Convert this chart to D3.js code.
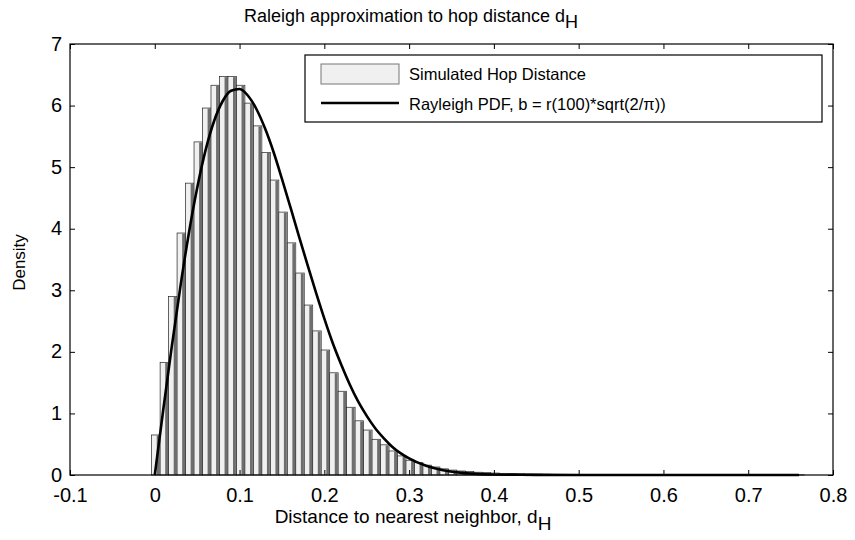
<!DOCTYPE html>
<html>
<head>
<meta charset="utf-8">
<script src="https://d3js.org/d3.v7.min.js"></script>
<style>
  body { margin: 0; background: #fff; }
  text { font-family: "Liberation Sans", Arial, sans-serif; fill: #000; }
</style>
</head>
<body>
<script>
// Histogram bins (density), bin width 0.01 starting at firstEdge
var firstEdge = -0.0037;
var binWidth = 0.01;
var density = [
  0.65, 1.83, 2.90, 3.93, 4.74, 5.41, 5.96, 6.33, 6.47, 6.47,
  6.33, 6.04, 5.67, 5.24, 4.79, 4.27, 3.77, 3.28, 2.76, 2.34,
  2.03, 1.66, 1.36, 1.10, 0.88, 0.73, 0.58, 0.49, 0.39, 0.31,
  0.24, 0.20, 0.16, 0.13, 0.10, 0.08, 0.065, 0.055, 0.045, 0.038,
  0.032, 0.027, 0.023, 0.020, 0.017, 0.015, 0.013, 0.011, 0.010, 0.009,
  0.008, 0.007, 0.006, 0.006, 0.005, 0.005, 0.004, 0.004, 0.004, 0.003,
  0.003, 0.003, 0.003, 0.003, 0.002, 0.002, 0.002, 0.002, 0.002, 0.002,
  0.002, 0.002, 0.002, 0.002, 0.002, 0.002, 0.002
];

// Rayleigh PDF curve
var curveX = [0, 0.01, 0.02, 0.03, 0.04, 0.05, 0.06, 0.07, 0.08, 0.09,
  0.10, 0.11, 0.12, 0.13, 0.14, 0.15, 0.16, 0.17, 0.18, 0.19,
  0.20, 0.21, 0.22, 0.23, 0.24, 0.25, 0.26, 0.27, 0.28, 0.30,
  0.32, 0.34, 0.36, 0.38, 0.40, 0.45, 0.50, 0.60, 0.70, 0.76];
var curveY = [0, 1.06, 2.08, 3.04, 3.91, 4.66, 5.28, 5.75, 6.07, 6.24,
  6.27, 6.16, 5.94, 5.63, 5.25, 4.81, 4.35, 3.88, 3.42, 2.97,
  2.54, 2.14, 1.79, 1.47, 1.19, 0.96, 0.76, 0.60, 0.46, 0.27,
  0.15, 0.078, 0.039, 0.018, 0.008, 0.002, 0, 0, 0, 0];

var xTicks = [-0.1, 0, 0.1, 0.2, 0.3, 0.4, 0.5, 0.6, 0.7, 0.8];
var xTickLabels = ["-0.1", "0", "0.1", "0.2", "0.3", "0.4", "0.5", "0.6", "0.7", "0.8"];
var yTicks = [0, 1, 2, 3, 4, 5, 6, 7];

var W = 855, H = 540;
var margin = {top: 44, right: 22, bottom: 65, left: 70},
    width = W - margin.left - margin.right,
    height = H - margin.top - margin.bottom;

var x = d3.scaleLinear().domain([-0.1, 0.8]).range([0, width]);
var y = d3.scaleLinear().domain([0, 7]).range([height, 0]);

var svg = d3.select("body").append("svg")
    .attr("width", W)
    .attr("height", H);
var g = svg.append("g")
    .attr("transform", "translate(" + margin.left + "," + margin.top + ")");

// bars
var bins = density.map(function(d, i) {
  return {x0: firstEdge + i * binWidth, x1: firstEdge + (i + 1) * binWidth, v: d};
});
var bar = g.selectAll(".bar").data(bins).enter().append("g");
bar.append("rect")
    .attr("x", function(d) { return x(d.x0); })
    .attr("width", function(d) { return x(d.x1) - x(d.x0); })
    .attr("y", function(d) { return y(d.v); })
    .attr("height", function(d) { return height - y(d.v); })
    .attr("fill", "#f0f0f0")
    .attr("stroke", "#222")
    .attr("stroke-width", 0.7);
bar.append("rect")
    .attr("x", function(d) { return x(d.x0) + (x(d.x1) - x(d.x0)) * 0.6; })
    .attr("width", function(d) { return (x(d.x1) - x(d.x0)) * 0.34; })
    .attr("y", function(d) { return y(d.v) + 0.5; })
    .attr("height", function(d) { return Math.max(0, height - y(d.v) - 0.5); })
    .attr("fill", "#6e6e6e");

// curve
var line = d3.line()
    .x(function(d, i) { return x(curveX[i]); })
    .y(function(d) { return y(d); })
    .curve(d3.curveMonotoneX);
g.append("path")
    .datum(curveY)
    .attr("d", line)
    .attr("fill", "none")
    .attr("stroke", "#000")
    .attr("stroke-width", 2.6);

// box + inner ticks on all sides
var tl = 5;
g.append("rect").attr("width", width).attr("height", height)
    .attr("fill", "none").attr("stroke", "#000").attr("stroke-width", 1.2);

var axB = g.append("g").attr("transform", "translate(0," + height + ")")
    .call(d3.axisBottom(x).tickValues(xTicks).tickSize(-tl).tickPadding(tl + 8)
      .tickFormat(function(d, i) { return xTickLabels[i]; }));
var axT = g.append("g")
    .call(d3.axisTop(x).tickValues(xTicks).tickSize(-tl).tickFormat(""));
var axL = g.append("g")
    .call(d3.axisLeft(y).tickValues(yTicks).tickSize(-tl).tickPadding(tl + 3)
      .tickFormat(function(d) { return String(d); }));
var axR = g.append("g").attr("transform", "translate(" + width + ",0)")
    .call(d3.axisRight(y).tickValues(yTicks).tickSize(-tl).tickFormat(""));
[axB, axT, axL, axR].forEach(function(a) {
  a.select(".domain").remove();
  a.selectAll("line").attr("stroke", "#000");
  a.selectAll("text").style("font-size", "20px").style("font-family", "Liberation Sans, Arial, sans-serif");
});
axB.selectAll("text").attr("dy", "0.7em");
axL.selectAll("text").attr("dy", "0.3em");

// legend
var lg = g.append("g").attr("transform", "translate(" + (305 - margin.left) + "," + (55 - margin.top) + ")");
lg.append("rect").attr("width", 517).attr("height", 67)
    .attr("fill", "#fff").attr("stroke", "#000").attr("stroke-width", 1.2);
lg.append("rect").attr("x", 16).attr("y", 9).attr("width", 78).attr("height", 20)
    .attr("fill", "#f0f0f0").attr("stroke", "#777").attr("stroke-width", 1);
lg.append("line").attr("x1", 16).attr("x2", 94).attr("y1", 48).attr("y2", 48)
    .attr("stroke", "#000").attr("stroke-width", 2.6);
lg.append("text").attr("x", 104).attr("y", 25).style("font-size", "16.5px")
    .text("Simulated Hop Distance");
lg.append("text").attr("x", 104).attr("y", 55).style("font-size", "16.5px")
    .text("Rayleigh PDF, b = r(100)*sqrt(2/\u03c0))");

// title
var t = svg.append("text")
    .attr("x", 411).attr("y", 22)
    .attr("text-anchor", "middle")
    .style("font-size", "18px");
t.append("tspan").text("Raleigh approximation to hop distance d");
t.append("tspan").attr("dy", 6).text("H");

// x label
var xl = svg.append("text")
    .attr("x", 413).attr("y", 523)
    .attr("text-anchor", "middle")
    .style("font-size", "19px");
xl.append("tspan").text("Distance to nearest neighbor, d");
xl.append("tspan").attr("dy", 7).text("H");

// y label
svg.append("text")
    .attr("transform", "translate(25," + (margin.top + height / 2 + 3) + ") rotate(-90)")
    .attr("text-anchor", "middle")
    .style("font-size", "17px")
    .style("font-family", "Liberation Sans Narrow, Arial Narrow, sans-serif")
    .text("Density");
</script>
</body>
</html>
